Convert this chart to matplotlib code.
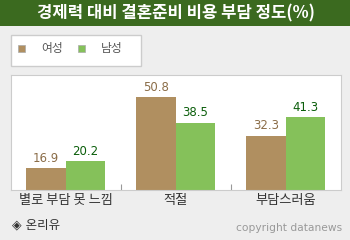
import numpy as np
import matplotlib.pyplot as plt
from matplotlib.patches import Rectangle

plt.rcParams['font.family'] = ['Noto Sans CJK KR', 'DejaVu Sans']

categories = ['별로 부담 못 느낌', '적절', '부담스러움']
female = [16.9, 50.8, 32.3]
male = [20.2, 38.5, 41.3]
series_names = ['여성', '남성']

W, H = 350, 240
fig = plt.figure(figsize=(3.5, 2.4), dpi=100)
fig.patch.set_facecolor('#eeeeee')

# title bar
fig.patches.append(Rectangle((0, 1 - 25.5 / H), 1, 25.5 / H, transform=fig.transFigure,
                             facecolor='#3b6a1f', edgecolor='none', zorder=0))
fig.text(176 / W, 1 - 13 / H, '경제력 대비 결혼준비 비용 부담 정도(%)', color='white',
         fontsize=12, fontweight='bold', ha='center', va='center')

# legend box
fig.patches.append(Rectangle((10.5 / W, 1 - 66 / H), 130 / W, 31 / H, transform=fig.transFigure,
                             facecolor='white', edgecolor='#cccccc', lw=1, zorder=0))
brown = '#b08f60'
green = '#85c15a'
for xs, col, name in [(18, brown, series_names[0]), (78, green, series_names[1])]:
    fig.patches.append(Rectangle((xs / W, 1 - 51.5 / H), 7 / W, 7 / H, transform=fig.transFigure,
                                 facecolor=col, edgecolor='#aaaaaa', lw=0.5))
    fig.text((xs + 23) / W, 1 - 48.5 / H, name, color='#555555', fontsize=8.5, va='center')

# plot area
ax = fig.add_axes([10.7 / W, 50 / H, 330 / W, 115 / H])
ax.set_facecolor('white')
x = np.arange(len(categories))
bw = 0.36
ax.bar(x - bw / 2, female, bw, color=brown, zorder=2)
ax.bar(x + bw / 2, male, bw, color=green, zorder=2)
for xi, v in zip(x, female):
    ax.text(xi - bw / 2, v + 1.5, f'{v}', ha='center', va='bottom', color='#8b6d48',
            fontsize=8.5, family='DejaVu Sans')
for xi, v in zip(x, male):
    ax.text(xi + bw / 2, v + 1.5, f'{v}', ha='center', va='bottom', color='#0b5e0b',
            fontsize=8.5, family='DejaVu Sans')
ax.set_xlim(-0.5, 2.5)
ax.set_ylim(6.3, 61.2)
ax.set_yticks([])
ax.set_xticks([0.5, 1.5])
ax.set_xticklabels([])
ax.tick_params(axis='x', direction='in', length=4, color='#999999')
for s in ax.spines.values():
    s.set_color('#cccccc')
for xi, c in zip(x, categories):
    ax.text(xi, -0.09, c, transform=ax.get_xaxis_transform(), ha='center', va='center',
            fontsize=9.5, color='#333333')

fig.text(12 / W, 1 - 225 / H, '◈ 온리유', fontsize=9, color='#333333', va='center',
         family=['DejaVu Sans', 'Noto Sans CJK KR'])
fig.text(342 / W, 1 - 228 / H, 'copyright datanews', fontsize=7.7, color='#999999',
         ha='right', va='center', family='DejaVu Sans')

fig.savefig('out.png', dpi=100, facecolor=fig.get_facecolor())
